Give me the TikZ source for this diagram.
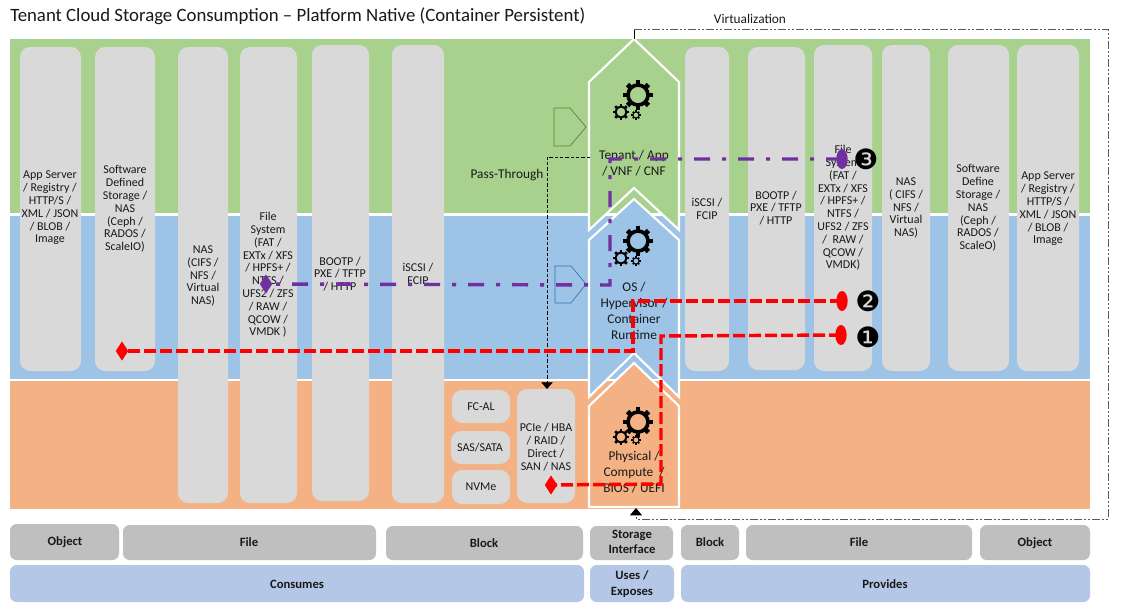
\documentclass[tikz,border=0pt]{standalone}
\usepackage{fontspec}
\setmainfont{Carlito}
\newfontfamily\numfont{DejaVu Sans}
\usetikzlibrary{shapes.geometric,arrows.meta,calc}
\definecolor{bandgreen}{HTML}{A9D18E}
\definecolor{bandblue}{HTML}{9DC3E6}
\definecolor{bandorange}{HTML}{F4B183}
\definecolor{pillar}{HTML}{D9D9D9}
\definecolor{greyhead}{HTML}{BFBFBF}
\definecolor{bluehead}{HTML}{B4C7E7}
\definecolor{routepurple}{HTML}{7030A0}
\definecolor{routered}{HTML}{FF0000}
\definecolor{pentgreen}{HTML}{548235}
\definecolor{pentblue}{HTML}{2E75B6}
\newcommand{\gearmark}[3]{%
  \pgfmathsetmacro{\gw}{#3*0.75*0.25}%
  \pgfmathsetmacro{\gt}{#3*0.75*0.34}%
  \draw[black,line width=\gw pt] (#1,#2) circle ({#3*0.69});
  \foreach \ga in {0,45,...,315}{
    \draw[black,line width=\gt pt] ($(#1,#2)+(\ga:{#3*0.72})$) -- ($(#1,#2)+(\ga:{#3*1.02})$);
  }}
\tikzset{
  x=0.75pt,y=-0.75pt,
  band/.style={fill=#1,draw=none},
  pillarbox/.style={fill=pillar,draw=none,rounded corners=7.5pt},
  lbl/.style={font=\fontsize{9}{9.6}\selectfont,align=center,inner sep=0pt,text=black!90},
  chev/.style={draw=white,line width=1.6pt,fill=#1,miter limit=10},
  chevlbl/.style={font=\fontsize{10}{12}\selectfont,align=center,inner sep=0pt,text=black!90},
  headbox/.style={fill=#1,draw=none,rounded corners=5pt},
  headlbl/.style={font=\fontsize{9.5}{11.7}\selectfont\bfseries,align=center,inner sep=0pt,text=black!90},
  outline/.style={draw=#1,line width=0.5pt,fill=none},
  purpleroute/.style={draw=routepurple,line width=2.6pt,dash pattern=on 12pt off 9pt on 3pt off 9pt},
  redroute/.style={draw=routered,line width=2.6pt,dash pattern=on 9pt off 3pt},
  oval/.style={ellipse,fill=#1,draw=none,inner sep=0pt,minimum width=8.5pt,minimum height=15pt},
  dmd/.style={diamond,fill=#1,draw=none,inner sep=0pt,minimum width=9.5pt,minimum height=14.5pt},
  numlbl/.style={font=\fontsize{21}{21}\numfont,inner sep=0pt,text=black},
  passline/.style={draw=black,line width=0.6pt,dash pattern=on 2.5pt off 1.5pt},
  virtline/.style={draw=black!65,line width=0.7pt,dash pattern=on 6pt off 1.5pt on 1.5pt off 1.5pt on 1.5pt off 1.5pt},
}
\begin{document}
\begin{tikzpicture}
\useasboundingbox (0,0) rectangle (1122,612);
\fill[white] (0,0) rectangle (1122,612);
% title
\node[anchor=west,inner sep=0pt,font=\fontsize{14.1}{16}\selectfont,text=black!90] (title) at (10,16) {Tenant Cloud Storage Consumption -- Platform Native (Container Persistent)};
\node[inner sep=0pt,font=\fontsize{10}{12}\selectfont,text=black!90] (virt) at (750,19) {Virtualization};
% bands
\path[band=bandgreen] (10,39) rectangle (1090,213);
\path[band=bandblue] (10,216) rectangle (1090,379);
\path[band=bandorange] (10,381) rectangle (1090,509);
% pillars
\path[pillarbox] (20,47) rectangle (81,371);
\path[pillarbox] (95,47) rectangle (155,371);
\path[pillarbox] (178,47) rectangle (228,503);
\path[pillarbox] (240,47) rectangle (297,503);
\path[pillarbox] (312,45) rectangle (369,501);
\path[pillarbox] (392,45) rectangle (444,503);
\path[pillarbox] (452,390) rectangle (510,423);
\path[pillarbox] (451,431) rectangle (510,464);
\path[pillarbox] (452,470) rectangle (510,504);
\path[pillarbox] (517,389) rectangle (575,503);
\path[pillarbox] (685,47) rectangle (729,371);
\path[pillarbox] (748,47) rectangle (805,370);
\path[pillarbox] (814,45) rectangle (872,371);
\path[pillarbox] (882,45) rectangle (930,371);
\path[pillarbox] (948,45) rectangle (1009,371);
\path[pillarbox] (1017,45) rectangle (1079,371);
% pillar labels
\node[lbl] (appl) at (50,208) {App Server\\/ Registry /\\HTTP/S /\\XML / JSON\\/ BLOB /\\Image};
\node[lbl] (sdsl) at (125,209) {Software\\Defined\\Storage /\\NAS\\(Ceph /\\RADOS /\\ScaleIO)};
\node[lbl] (nasl) at (203,276) {NAS\\(CIFS /\\NFS /\\Virtual\\NAS)};
\node[lbl] (fsl) at (268,275) {File\\System\\(FAT /\\EXTx / XFS\\/ HPFS+ /\\NTFS /\\UFS2 / ZFS\\/ RAW /\\QCOW /\\VMDK )};
\node[lbl] (bootl) at (340,274) {BOOTP /\\PXE / TFTP\\/ HTTP};
\node[lbl] (iscsil) at (418,274) {iSCSI /\\FCIP};
\node[lbl] (fcal) at (481,407) {FC-AL};
\node[lbl] (sas) at (480,448) {SAS/SATA};
\node[lbl] (nvme) at (481,487) {NVMe};
\node[lbl] (pcie) at (546,447) {PCIe / HBA\\/ RAID /\\Direct /\\SAN / NAS};
\node[lbl] (iscsir) at (707,209) {iSCSI /\\FCIP};
\node[lbl] (bootr) at (776,208) {BOOTP /\\PXE / TFTP\\/ HTTP};
\node[lbl] (fsr) at (843,208) {File\\System\\(FAT /\\EXTx / XFS\\/ HPFS+ /\\NTFS /\\UFS2 / ZFS\\/ ~RAW /\\QCOW /\\VMDK)};
\node[lbl] (nasr) at (906,208) {NAS\\( CIFS /\\NFS /\\Virtual\\NAS)};
\node[lbl] (sdsr) at (978,208) {Software\\Define\\Storage /\\NAS\\(Ceph /\\RADOS /\\ScaleO)};
\node[lbl] (appr) at (1048,209) {App Server\\/ Registry /\\HTTP/S /\\XML / JSON\\/ BLOB /\\Image};
% chevrons
\path[chev=bandgreen] (634,39) -- (679,82) -- (679,230) -- (634,188) -- (589,230) -- (589,82) -- cycle;
\path[chev=bandblue] (634,199) -- (679,240) -- (679,397) -- (634,353) -- (589,397) -- (589,240) -- cycle;
\path[chev=bandorange] (634,363) -- (679,406) -- (679,507) -- (589,507) -- (589,406) -- cycle;
% gears
\gearmark{638}{95}{14.5}
\gearmark{621}{112}{8}
\gearmark{636}{115}{4.5}
\gearmark{638}{241}{14.5}
\gearmark{621}{258}{8}
\gearmark{636}{261}{4.5}
\gearmark{638}{422}{14.5}
\gearmark{621}{437}{8}
\gearmark{636}{440}{4.5}
% chevron labels
\node[chevlbl] (tenant) at (634,163) {Tenant / App\\/ VNF / CNF};
\node[chevlbl] (os) at (634,311) {OS /\\Hypervisor /\\Container\\Runtime};
\node[chevlbl] (phys) at (634,472) {Physical /\\Compute ~/\\BIOS / UEFI};
% small pentagons
\path[outline=pentgreen] (554,108) -- (570,108) -- (586,127) -- (570,146) -- (554,146) -- cycle;
\path[outline=pentblue] (555,266) -- (571,266) -- (586,284) -- (571,303) -- (555,303) -- cycle;
% pass-through
\node[inner sep=0pt,font=\fontsize{10}{12}\selectfont,text=black!90] (pass) at (507,175) {Pass-Through};
\coordinate (passstart) at (590,157);
\coordinate (passbend) at (547,157);
\coordinate (passend) at (547,389);
\draw[passline,-{Triangle[width=8.5pt,length=5pt]}] (passstart) -- (passbend) -- (passend);
% virtualization boundary
\coordinate (virta) at (634,39);
\coordinate (virtb) at (634,29);
\coordinate (virtc) at (1108,29);
\coordinate (virtd) at (1108,519);
\coordinate (virte) at (636,519);
\coordinate (virtf) at (636,508);
\draw[black,line width=0.6pt] (virta) -- (virtb);
\draw[virtline,-{Triangle[width=9pt,length=5.5pt,color=black]}] (virtb) -- (virtc) -- (virtd) -- (virte) -- (virtf);
% markers and routes
\node[oval=routepurple] (p3) at (842,159) {};
\node[dmd=routepurple] (pd) at (266,284) {};
\node[oval=routered] (r1) at (841,335) {};
\node[oval=routered] (r2) at (842,301) {};
\node[dmd=routered] (d1) at (551,485) {};
\node[dmd=routered] (d2) at (122,351) {};
\coordinate (pb1) at (610,159);
\coordinate (pb2) at (610,285);
\draw[purpleroute] (p3.center) -- (pb1) -- (pb2) -- (pd.center);
\coordinate (rb1) at (661,336);
\coordinate (rb2) at (661,484);
\draw[redroute] (r1.center) -- (rb1) -- (rb2) -- (d1.center);
\coordinate (rc1) at (633,301);
\coordinate (rc2) at (633,351);
\draw[redroute] (r2.center) -- (rc1) -- (rc2) -- (d2.center);
\node[numlbl] (n3) at (866,159) {❸};
\node[numlbl] (n2) at (868,301) {❷};
\node[numlbl] (n1) at (868,337) {❶};
% bottom rows
\path[headbox=greyhead] (10,524) rectangle (119,560);
\path[headbox=greyhead] (123,525) rectangle (376,560);
\path[headbox=greyhead] (386,526) rectangle (583,560);
\path[headbox=greyhead] (590,526) rectangle (673,560);
\path[headbox=greyhead] (681,525) rectangle (739,560);
\path[headbox=greyhead] (746,525) rectangle (972,560);
\path[headbox=greyhead] (980,525) rectangle (1090,560);
\path[headbox=bluehead] (10,565) rectangle (584,602);
\path[headbox=bluehead] (590,565) rectangle (674,602);
\path[headbox=bluehead] (681,565) rectangle (1090,602);
\node[headlbl] (ho1) at (65,542) {Object};
\node[headlbl] (hf1) at (249,542) {File};
\node[headlbl] (hb1) at (484,543) {Block};
\node[headlbl] (hsi) at (632,542) {Storage\\Interface};
\node[headlbl] (hb2) at (710,542) {Block};
\node[headlbl] (hf2) at (859,542) {File};
\node[headlbl] (ho2) at (1035,543) {Object};
\node[headlbl] (hc) at (297,584) {Consumes};
\node[headlbl] (hu) at (632,584) {Uses /\\Exposes};
\node[headlbl] (hp) at (885,584) {Provides};
\end{tikzpicture}
\end{document}
